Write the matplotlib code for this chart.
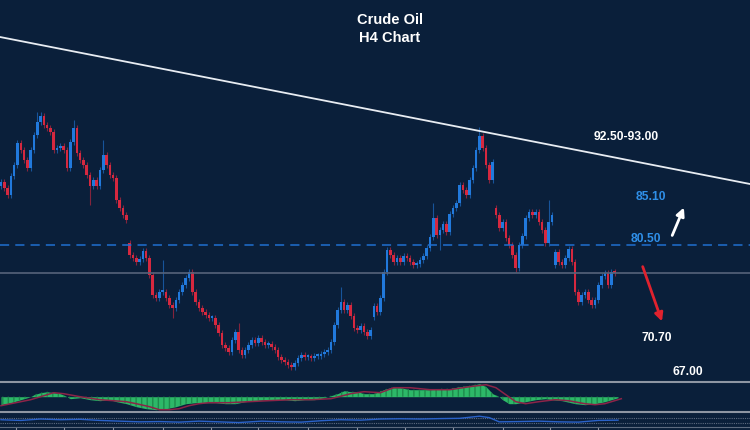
import numpy as np
import matplotlib
matplotlib.use('Agg')
import matplotlib.pyplot as plt

# closing prices, one per H4 candle
closes = [
    86.8, 86.2, 85.5, 87.4, 88.5, 90.7, 90.0, 89.0, 88.2, 90.0,
    91.5, 92.8, 93.4, 92.5, 92.2, 91.8, 90.0, 90.2, 90.4, 90.0,
    88.2, 90.8, 92.2, 89.7, 89.0, 88.5, 87.5, 86.4, 87.0, 86.4,
    88.0, 89.5, 88.5, 87.5, 87.2, 85.0, 84.2, 83.5, 83.0, 79.5,
    79.2, 78.8, 79.1, 79.9, 79.2, 77.5, 75.5, 75.2, 75.8, 75.8,
    75.2, 74.5, 74.2, 75.0, 75.8, 76.5, 77.2, 77.8, 75.8, 74.8,
    74.2, 73.8, 73.5, 73.2, 73.2, 72.5, 71.7, 70.5, 70.2, 69.8,
    71.0, 71.8, 70.0, 69.5, 70.0, 70.5, 71.0, 70.7, 71.2, 70.8,
    70.5, 70.6, 70.3, 70.0, 69.3, 69.0, 68.8, 68.5, 68.3, 68.7,
    69.2, 69.5, 69.3, 69.3, 69.2, 69.4, 69.4, 69.6, 69.8, 70.0,
    70.8, 72.5, 74.0, 74.8, 74.0, 74.5, 73.4, 72.2, 72.0, 72.4,
    71.8, 71.4, 72.0, 74.4, 73.8, 75.2, 77.8, 80.0, 79.5, 78.8,
    79.2, 78.8, 79.4, 79.2, 78.8, 78.5, 78.6, 79.0, 79.4, 80.2,
    81.3, 83.2, 81.5, 82.0, 82.6, 81.8, 83.6, 84.2, 84.7, 86.5,
    86.0, 85.5, 87.0, 88.2, 90.0, 91.4, 90.2, 88.5, 87.0, 88.8,
    83.5, 82.2, 82.8, 81.2, 80.5, 79.5, 78.2, 80.5, 81.4, 83.2,
    83.8, 83.5, 83.8, 82.8, 82.0, 80.7, 82.8, 83.5, 79.8, 78.8,
    78.5, 79.2, 80.1, 78.8, 75.8, 74.8, 75.5, 75.8, 75.0, 74.5,
    75.0, 76.5, 77.4, 77.7, 76.5, 77.8, 77.7,
]
# weekend gaps: candle index -> open price
gap_opens = {39: 80.7, 113: 73.3, 150: 84.2, 168: 78.5}
# long wicks
wick_highs = {11: 93.8, 12: 93.8, 22: 93.0, 31: 91.0, 49: 79.0, 72: 72.7,
              103: 76.3, 131: 84.7, 145: 92.3, 166: 85.0}
wick_lows = {27: 84.5, 52: 73.2, 133: 80.0, 156: 77.8}

# MACD histogram (sample points: candle index, value)
hist_idx = [0, 3, 6, 9, 10, 12, 14, 16, 18, 20, 21, 24, 27, 30, 33, 35, 38, 41,
            44, 47, 50, 53, 56, 59, 62, 65, 68, 71, 74, 77, 80, 83, 86, 89, 92,
            95, 98, 100, 102, 104, 106, 108, 110, 113, 116, 118, 121, 124, 127,
            130, 133, 136, 139, 142, 145, 147, 149, 151, 152, 154, 156, 159,
            162, 165, 167, 170, 174, 177, 180, 183, 185, 187]
hist_val = [-0.8, -0.6, -0.3, 0.0, 0.2, 0.4, 0.5, 0.4, 0.3, 0.0, -0.2, -0.1,
            -0.3, -0.4, -0.3, -0.5, -0.7, -1.0, -1.2, -1.3, -1.2, -1.0, -0.7,
            -0.6, -0.6, -0.6, -0.7, -0.7, -0.5, -0.4, -0.3, -0.3, -0.3, -0.4,
            -0.3, -0.3, -0.1, 0.1, 0.3, 0.6, 0.5, 0.5, 0.3, 0.3, 0.7, 0.9, 0.9,
            0.7, 0.7, 0.7, 0.8, 0.8, 1.0, 1.1, 1.3, 1.0, 0.3, 0.0, -0.3, -0.7,
            -0.7, -0.5, -0.3, -0.2, -0.3, -0.4, -0.7, -0.8, -0.7, -0.5, -0.3,
            -0.1]
# MACD signal line
sig_idx = [0, 3, 9, 16, 19, 24, 30, 38, 41, 45, 48, 51, 54, 57, 60, 63, 69, 75,
           81, 88, 94, 100, 106, 110, 115, 119, 124, 130, 136, 142, 147, 150,
           153, 156, 159, 163, 168, 172, 177, 180, 183, 188]
sig_val = [-0.9, -0.7, -0.3, 0.4, 0.3, 0.0, -0.3, -0.5, -0.7, -1.0, -1.3,
           -1.3, -1.2, -0.9, -0.7, -0.6, -0.6, -0.5, -0.4, -0.3, -0.3, -0.2,
           0.3, 0.5, 0.4, 0.9, 0.9, 0.7, 0.7, 1.0, 1.2, 0.9, 0.2, -0.5, -0.7,
           -0.5, -0.3, -0.4, -0.7, -0.8, -0.7, -0.2]
# lower oscillator
osc_idx = [0, 6, 12, 18, 24, 30, 36, 42, 48, 54, 60, 66, 72, 79, 85, 91, 97,
           103, 109, 115, 121, 127, 133, 139, 145, 148, 151, 157, 163, 169,
           175, 181, 187]
osc_val = [55, 50, 60, 55, 58, 50, 45, 40, 42, 38, 45, 40, 35, 45, 40, 38, 48,
           55, 52, 60, 62, 60, 63, 65, 80, 70, 40, 42, 45, 40, 38, 50, 52]
# time axis tick positions (candle index)
time_ticks = [4.5, 19, 34, 49, 63.5, 78, 93, 108, 122.5, 137, 152, 166.5, 181]

# levels and annotations
trend_line = [101.3, 86.6]
support_dash = 80.5
grey_level = 77.7

BG = '#0a1f3a'
UP = '#2179dc'
DOWN = '#d6283f'
BLUE_TXT = '#2f8fe8'

opens = [gap_opens.get(i, closes[i - 1] if i > 0 else closes[0] - 0.4)
         for i in range(len(closes))]
highs = [wick_highs.get(i, max(o, c) + 0.3) for i, (o, c) in enumerate(zip(opens, closes))]
lows = [wick_lows.get(i, min(o, c) - 0.3) for i, (o, c) in enumerate(zip(opens, closes))]

xs = np.arange(len(closes))
xlim = (-0.3, 227.0)

fig = plt.figure(figsize=(7.5, 4.3), dpi=100, facecolor=BG)
ax = fig.add_axes([0, 48 / 430, 1, 382 / 430], facecolor=BG)
ax2 = fig.add_axes([0, 18 / 430, 1, 30 / 430], facecolor=BG)
ax3 = fig.add_axes([0, 3 / 430, 1, 15 / 430], facecolor=BG)

# candles
cols = [UP if c >= o else DOWN for o, c in zip(opens, closes)]
ax.vlines(xs, lows, highs, colors=cols, lw=0.8, alpha=0.6)
bottoms = [min(o, c) for o, c in zip(opens, closes)]
heights = [max(abs(c - o), 0.15) for o, c in zip(opens, closes)]
ax.bar(xs, heights, bottom=bottoms, width=0.78, color=cols, linewidth=0)

ax.plot(xlim, trend_line, color='#e8ecf2', lw=1.3)
ax.axhline(support_dash, color='#1f6fd0', lw=1.1, dashes=(6, 4))
ax.axhline(grey_level, color='#56637a', lw=1.2)

ax.annotate('', xy=(207.3, 84.5), xytext=(203.1, 81.2),
            arrowprops=dict(arrowstyle='-|>', color='white', lw=2, mutation_scale=12))
ax.annotate('', xy=(200.6, 72.6), xytext=(194.2, 78.6),
            arrowprops=dict(arrowstyle='-|>', color='#e0222e', lw=2, mutation_scale=12))

tk = dict(color='white', fontsize=8.7, fontweight='bold', ha='center', va='center',
          family='Liberation Sans')
ax.text(189.4, 91.3, '92.50-93.00', **tk)
ax.text(196.9, 85.3, '85.10', **{**tk, 'color': BLUE_TXT})
ax.text(195.5, 81.1, '80.50', **{**tk, 'color': BLUE_TXT})
ax.text(198.8, 71.2, '70.70', **tk)
ax.text(208.2, 67.8, '67.00', **tk)
fig.text(390 / 750, 1 - 20 / 430, 'Crude Oil', **{**tk, 'fontsize': 10.5})
fig.text(390 / 750, 1 - 38 / 430, 'H4 Chart', **{**tk, 'fontsize': 10.5})

ax.set_xlim(xlim)
ax.set_ylim(66.8, 105)

# MACD panel
ax2.fill_between(hist_idx, hist_val, 0, color='#2db868', lw=0)
ax2.fill_between(hist_idx, hist_val, 0, facecolor='none', edgecolor='#1e8a4c',
                 hatch='|||', lw=0)
ax2.plot(sig_idx, sig_val, color='#8c2448', lw=1.1)
ax2.set_xlim(xlim)
ax2.set_ylim(-1.53, 1.47)

# oscillator panel
ax3.axhline(70, color='#5d6b80', lw=0.8, ls=(0, (1, 1)))
ax3.axhline(30, color='#5d6b80', lw=0.8, ls=(0, (1, 1)))
ax3.plot(osc_idx, osc_val, color='#2a62c9', lw=1)
ax3.set_xlim(xlim)
ax3.set_ylim(3.3, 110)

for a in (ax, ax2, ax3):
    a.set_xticks([])
    a.set_yticks([])
    for s in a.spines.values():
        s.set_visible(False)

# time axis ticks along the bottom edge
ax3.set_xticks(time_ticks)
ax3.tick_params(axis='x', length=3, color='#8e96a3', direction='out', labelbottom=False)
ax3.spines['bottom'].set_visible(True)
ax3.spines['bottom'].set_color('#5d6b80')
ax3.spines['bottom'].set_linewidth(0.8)

# panel separators
for yy in (382, 412):
    fig.add_artist(plt.Line2D([0, 1], [1 - yy / 430] * 2, color='#8e96a3', lw=1.5))

fig.savefig('out.png', dpi=100, facecolor=BG)
